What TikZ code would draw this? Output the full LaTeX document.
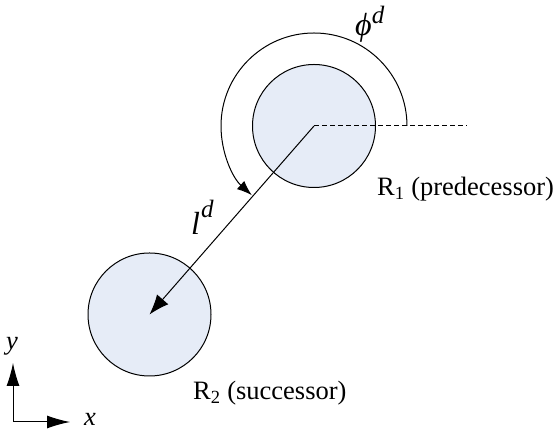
\documentclass[tikz,border=0pt]{standalone}
\usepackage{fontspec}
\setmainfont{Liberation Serif}
\usetikzlibrary{arrows.meta}
\definecolor{robfill}{RGB}{230,236,247}
\newcommand{\supd}[1]{\raisebox{#1}{\fontsize{25}{25}\selectfont\textit{d}}}
\begin{document}
\begin{tikzpicture}[x=1pt,y=1pt,
  robot/.style={circle,draw=black,line width=1pt,fill=robfill,minimum size=123pt,inner sep=0pt},
  lbl/.style={font=\fontsize{26.5}{30}\selectfont,inner sep=0pt},
  mlbl/.style={font=\fontsize{32}{34}\selectfont,inner sep=0pt},
  conn/.style={line width=1pt,draw=black},
  bigtip/.style={-{Latex[length=20pt,width=15pt]}},
  arctip/.style={-{Latex[length=15pt,width=11pt]}},
  axtip/.style={-{Latex[length=23pt,width=13pt]}}]
\useasboundingbox (0,0) rectangle (558,430);
\node[robot] (R1) at (314,304) {};
\node[robot] (R2) at (149.5,115.5) {};
\coordinate (dashend) at (467,304);
\coordinate (arcstart) at (407,304);
\draw[conn,dash pattern=on 5pt off 3pt] (R1.center) -- (dashend);
\draw[conn,bigtip] (R1.center) -- (R2.center);
\draw[conn,arctip] (arcstart) arc[start angle=0,end angle=228,radius=93];
\node[mlbl,anchor=base west] (phi) at (355,394) {\textit{ϕ}\supd{12pt}};
\node[mlbl,anchor=base west] (ld) at (191,195) {\textit{l}\kern1pt\supd{17pt}};
\node[lbl,anchor=base west] (t1) at (377,234) {R\textsubscript{1} (predecessor)};
\node[lbl,anchor=base west] (t2) at (193,30) {R\textsubscript{2} (successor)};
\coordinate (O) at (13,8);
\coordinate (Ytip) at (13,67);
\coordinate (Xtip) at (70,8);
\draw[conn,axtip] (O) -- (Ytip);
\draw[conn,axtip] (O) -- (Xtip);
\node[lbl,anchor=center] (ylab) at (12,84) {\textit{y}};
\node[lbl,anchor=center] (xlab) at (90,11) {\textit{x}};
\end{tikzpicture}
\end{document}
